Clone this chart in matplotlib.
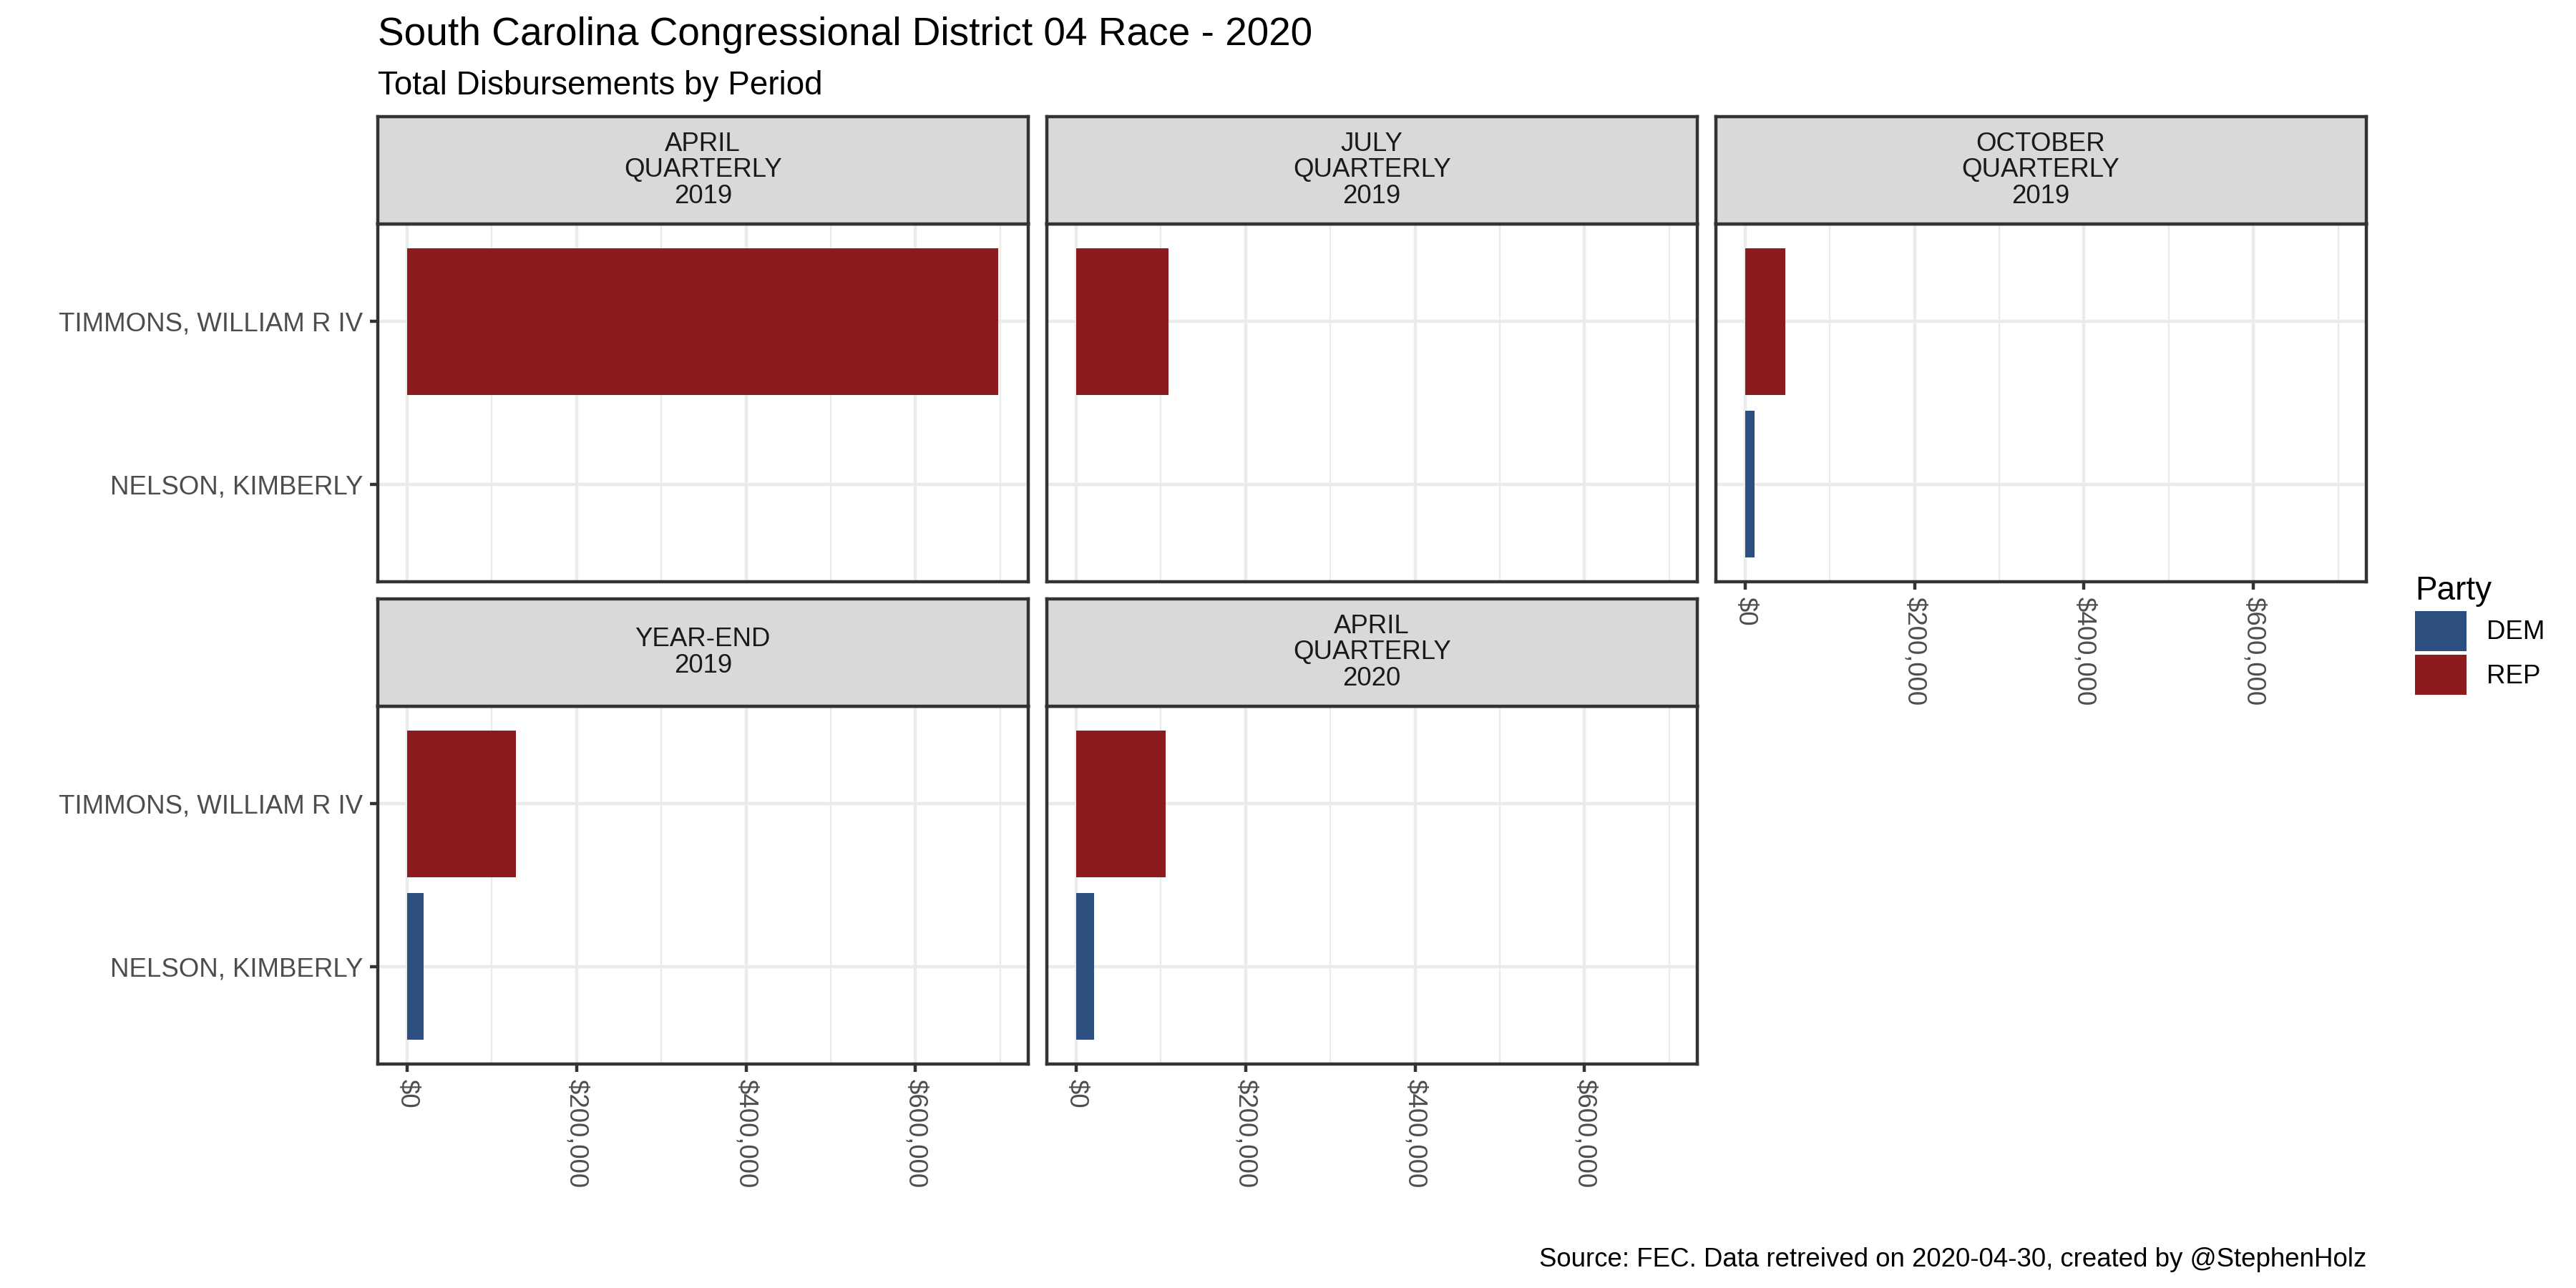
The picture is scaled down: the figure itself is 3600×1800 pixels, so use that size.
import matplotlib
matplotlib.use("Agg")
import matplotlib.pyplot as plt
from matplotlib.patches import Patch
from matplotlib.ticker import FuncFormatter, FixedLocator

plt.rcParams['font.family'] = ['Liberation Sans', 'DejaVu Sans']

# data
periods = ["APRIL\nQUARTERLY\n2019", "JULY\nQUARTERLY\n2019", "OCTOBER\nQUARTERLY\n2019",
           "YEAR-END\n2019", "APRIL\nQUARTERLY\n2020"]
candidates = ["NELSON, KIMBERLY", "TIMMONS, WILLIAM R IV"]
candidate_party = ["DEM", "REP"]
nelson = [None, None, 11000, 19000, 21000]
timmons = [698000, 109000, 47000, 128000, 106000]
x_ticks = [0, 200000, 400000, 600000]

party_colors = {"DEM": "#2C4F80", "REP": "#8B1B1D"}
BORDER = "#333333"
GRID = "#EBEBEB"
LW = 1.07

fig = plt.figure(figsize=(12, 6), dpi=300)

col_left = [0.1466, 0.4063, 0.6660]
col_w = 0.2525
strip_h = 150 / 1800
panel_h = 500 / 1800
row_panel_bottom = [1 - 813 / 1800, 1 - 1487 / 1800]

xmax = max(timmons) * 1.05
xmin = -max(timmons) * 0.05

for i, period in enumerate(periods):
    r, c = divmod(i, 3)
    pb = row_panel_bottom[r]
    ax = fig.add_axes([col_left[c], pb, col_w, panel_h])
    sx = fig.add_axes([col_left[c], pb + panel_h, col_w, strip_h])

    vals = [nelson[i], timmons[i]]
    for y, v in enumerate(vals):
        if v is None:
            continue
        ax.barh(y, v, height=0.9, color=party_colors[candidate_party[y]], zorder=3)

    ax.set_xlim(xmin, xmax)
    ax.set_ylim(-0.6, 1.6)
    ax.xaxis.set_major_locator(FixedLocator(x_ticks))
    ax.xaxis.set_minor_locator(FixedLocator([100000, 300000, 500000, 700000]))
    ax.set_yticks([0, 1])
    ax.grid(True, which='major', color=GRID, linewidth=LW, zorder=0)
    ax.grid(True, which='minor', axis='x', color=GRID, linewidth=LW / 2, zorder=0)
    ax.set_axisbelow(True)
    for s in ax.spines.values():
        s.set_color(BORDER)
        s.set_linewidth(LW)
        s.set_zorder(5)
    ax.tick_params(which='major', length=2.75, width=LW, color=BORDER,
                   labelsize=8.8, labelcolor="#4D4D4D", pad=2.2)
    ax.tick_params(which='minor', length=0)

    if c == 0:
        ax.set_yticklabels(candidates)
    else:
        ax.tick_params(axis='y', which='major', labelleft=False, length=0)

    if i >= 2:
        ax.xaxis.set_major_formatter(FuncFormatter(lambda v, p: f"${v:,.0f}"))
        for lab in ax.get_xticklabels():
            lab.set_rotation(270)
            lab.set_ha('center')
            lab.set_va('top')
    else:
        ax.tick_params(axis='x', which='major', labelbottom=False, length=0)

    sx.set_facecolor("#D9D9D9")
    sx.set_xticks([])
    sx.set_yticks([])
    for s in sx.spines.values():
        s.set_color(BORDER)
        s.set_linewidth(LW)
    sx.text(0.5, 0.5, period, ha='center', va='center', fontsize=8.8,
            color="#1A1A1A", linespacing=1.05, transform=sx.transAxes)

fig.text(0.1466, 1 - 63 / 1800, "South Carolina Congressional District 04 Race - 2020",
         fontsize=13.2, color='black', ha='left', va='baseline')
fig.text(0.1466, 1 - 132 / 1800, "Total Disbursements by Period",
         fontsize=11, color='black', ha='left', va='baseline')
fig.text(0.9188, 1 - 1770 / 1800, "Source: FEC. Data retreived on 2020-04-30, created by @StephenHolz",
         fontsize=8.8, color='black', ha='right', va='baseline')

handles = [Patch(facecolor=party_colors[p], edgecolor='none', label=p) for p in ["DEM", "REP"]]
fig.legend(handles=handles, title="Party", loc='upper left',
           bbox_to_anchor=(0.9375, 1 - 804 / 1800), frameon=False,
           fontsize=8.8, title_fontsize=11, handlelength=1.96, handleheight=1.96,
           labelspacing=0.16, handletextpad=0.76, borderpad=0, borderaxespad=0,
           alignment='left')

fig.savefig("out.png", dpi=300)
